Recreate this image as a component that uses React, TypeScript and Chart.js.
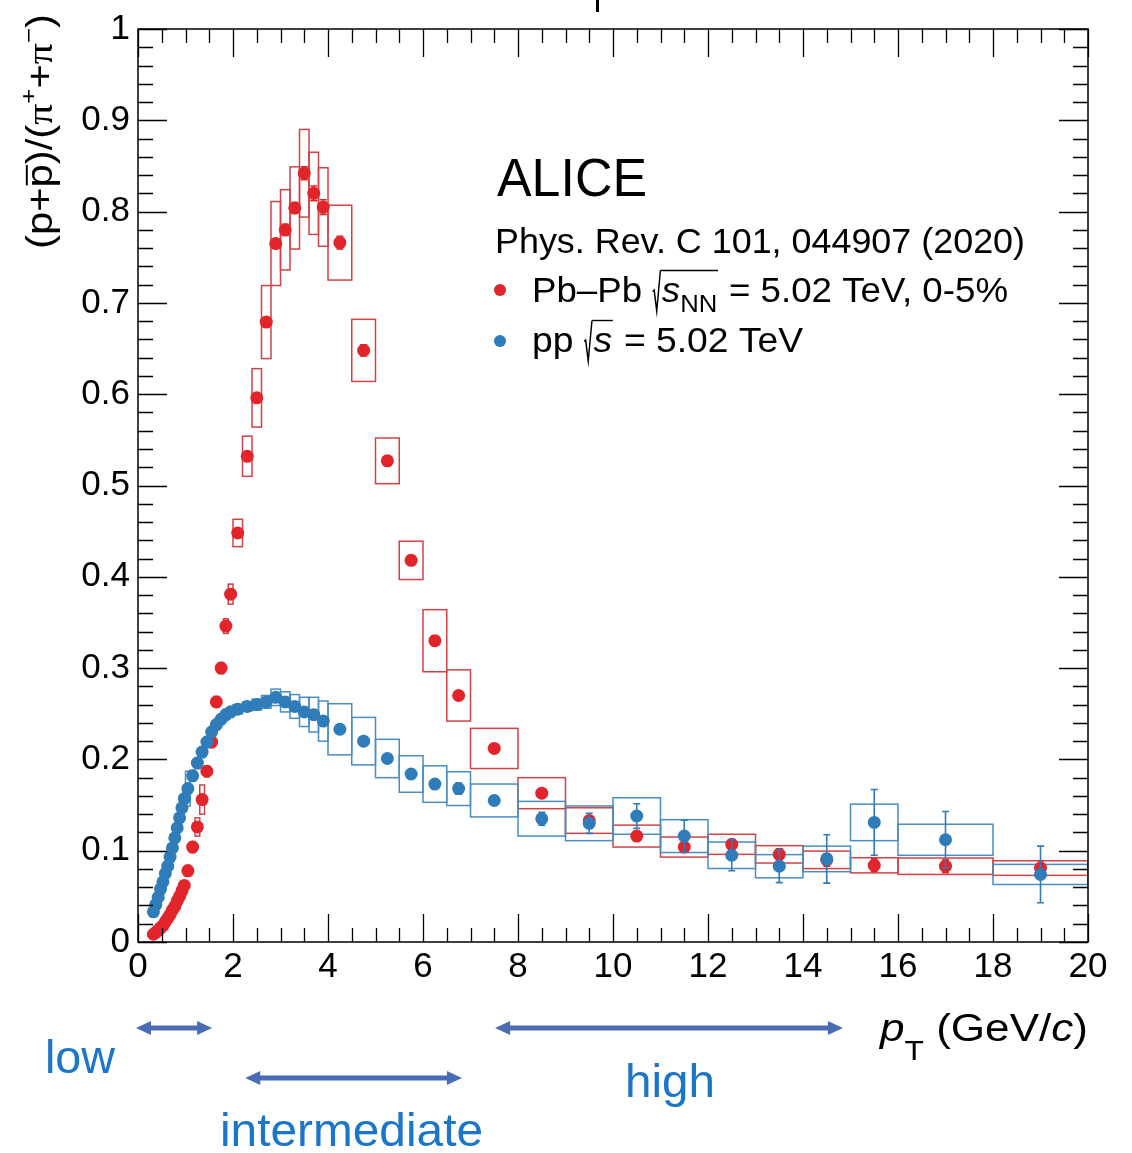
import React, { useEffect, useRef } from "react";
import { Chart, registerables } from "chart.js";

Chart.register(...registerables);

const FONT = '"Liberation Sans", Arial, Helvetica, sans-serif';
const SERIF = '"Liberation Serif", "DejaVu Serif", serif';

// ---------------- data ----------------
const ptCenters = [
  0.325, 0.375, 0.425, 0.475, 0.525, 0.575, 0.625, 0.675, 0.725, 0.775, 0.825, 0.875, 0.925, 0.975,
  1.05, 1.15, 1.25, 1.35, 1.45, 1.55, 1.65, 1.75, 1.85, 1.95,
  2.1, 2.3, 2.5, 2.7, 2.9, 3.1, 3.3, 3.5, 3.7, 3.9,
  4.25, 4.75, 5.25, 5.75, 6.25, 6.75,
  7.5, 8.5, 9.5, 10.5, 11.5, 12.5, 13.5, 14.5, 15.5,
  17, 19,
];
const binLow = [
  0.3, 0.35, 0.4, 0.45, 0.5, 0.55, 0.6, 0.65, 0.7, 0.75, 0.8, 0.85, 0.9, 0.95,
  1.0, 1.1, 1.2, 1.3, 1.4, 1.5, 1.6, 1.7, 1.8, 1.9,
  2.0, 2.2, 2.4, 2.6, 2.8, 3.0, 3.2, 3.4, 3.6, 3.8,
  4.0, 4.5, 5.0, 5.5, 6.0, 6.5,
  7, 8, 9, 10, 11, 12, 13, 14, 15,
  16, 18,
];
const binHigh = [
  0.35, 0.4, 0.45, 0.5, 0.55, 0.6, 0.65, 0.7, 0.75, 0.8, 0.85, 0.9, 0.95, 1.0,
  1.1, 1.2, 1.3, 1.4, 1.5, 1.6, 1.7, 1.8, 1.9, 2.0,
  2.2, 2.4, 2.6, 2.8, 3.0, 3.2, 3.4, 3.6, 3.8, 4.0,
  4.5, 5.0, 5.5, 6.0, 6.5, 7.0,
  8, 9, 10, 11, 12, 13, 14, 15, 16,
  18, 20,
];

// Pb-Pb 0-5%
const pbpbRatio = [
  0.0085, 0.0105, 0.013, 0.0155, 0.018, 0.022, 0.026, 0.030, 0.035, 0.039, 0.045, 0.050, 0.056, 0.062,
  0.078, 0.104, 0.126, 0.156, 0.187, 0.219, 0.263, 0.300, 0.346, 0.381,
  0.448, 0.532, 0.596, 0.679, 0.765, 0.780, 0.804, 0.842, 0.820, 0.805,
  0.766, 0.648, 0.527, 0.418, 0.330, 0.270,
  0.212, 0.163, 0.133, 0.116, 0.104, 0.107, 0.096, 0.090, 0.084,
  0.083, 0.081,
];
const pbpbStat = [
  0.0003, 0.0003, 0.0003, 0.0003, 0.0003, 0.0003, 0.0003, 0.0003, 0.0003, 0.0004, 0.0004, 0.0004, 0.0005, 0.0005,
  0.002, 0.002, 0.002, 0.002, 0.002, 0.002, 0.003, 0.003, 0.003, 0.004,
  0.003, 0.004, 0.004, 0.005, 0.005, 0.006, 0.006, 0.007, 0.008, 0.008,
  0.007, 0.006, 0.005, 0.005, 0.004, 0.004,
  0.004, 0.004, 0.004, 0.004, 0.005, 0.005, 0.006, 0.007, 0.007,
  0.007, 0.008,
];
const pbpbSys = [
  0.0008, 0.001, 0.0012, 0.0014, 0.0016, 0.002, 0.0023, 0.0026, 0.003, 0.0034, 0.0038, 0.0042, 0.0047, 0.0052,
  0.006, 0.006, 0.010, 0.016, 0.006, 0.006, 0.006, 0.006, 0.008, 0.011,
  0.015, 0.022, 0.032, 0.040, 0.046, 0.044, 0.045, 0.048, 0.045, 0.043,
  0.041, 0.034, 0.025, 0.021, 0.034, 0.028,
  0.022, 0.017, 0.014, 0.012, 0.011, 0.011, 0.0095, 0.0096, 0.0083,
  0.009, 0.008,
];

// pp
const ppRatio = [
  0.033, 0.041, 0.049, 0.058, 0.066, 0.075, 0.083, 0.093, 0.103, 0.114, 0.125, 0.136, 0.147, 0.157,
  0.168, 0.182, 0.196, 0.208, 0.219, 0.230, 0.238, 0.244, 0.249, 0.252,
  0.255, 0.258, 0.260, 0.263, 0.268, 0.263, 0.258, 0.252, 0.249, 0.242,
  0.233, 0.220, 0.201, 0.184, 0.173, 0.168,
  0.155, 0.135, 0.130, 0.138, 0.116, 0.095, 0.083, 0.091, 0.131,
  0.112, 0.074,
];
const ppStat = [
  0.0005, 0.0005, 0.0005, 0.0005, 0.0005, 0.0005, 0.0005, 0.0005, 0.0005, 0.0005, 0.0005, 0.0005, 0.0005, 0.0005,
  0.001, 0.001, 0.001, 0.001, 0.001, 0.001, 0.001, 0.001, 0.001, 0.001,
  0.001, 0.001, 0.001, 0.002, 0.002, 0.002, 0.002, 0.002, 0.003, 0.003,
  0.003, 0.003, 0.003, 0.003, 0.004, 0.006,
  0.005, 0.007, 0.011, 0.0135, 0.0175, 0.017, 0.018, 0.0265, 0.036,
  0.031, 0.031,
];
const ppSys = [
  0.0015, 0.002, 0.0025, 0.003, 0.003, 0.0035, 0.004, 0.0045, 0.005, 0.0055, 0.006, 0.0065, 0.007, 0.0075,
  0.019, 0.006, 0.006, 0.006, 0.006, 0.006, 0.006, 0.006, 0.006, 0.006,
  0.005, 0.005, 0.006, 0.007, 0.009, 0.011, 0.013, 0.016, 0.019, 0.022,
  0.028, 0.026, 0.021, 0.020, 0.020, 0.0185,
  0.018, 0.019, 0.019, 0.020, 0.018, 0.0145, 0.0127, 0.014, 0.020,
  0.017, 0.011,
];

// pT regions marked under the axis
const regionNames = ["low", "intermediate", "high"];
const regionRanges = [
  [0.0, 1.56],
  [2.3, 6.82],
  [7.56, 14.84],
];

// ---------------- styles ----------------
const RED = "#e2242b";
const BLUE = "#2f7cb9";
const RED_BOX = "#cf4347";
const BLUE_BOX = "#4a8dc0";
const ANNOT = "#1b76c9";
const ARROW = "#4a6cb5";

const series = [
  { vals: pbpbRatio, stat: pbpbStat, sys: pbpbSys, color: RED, box: RED_BOX },
  { vals: ppRatio, stat: ppStat, sys: ppSys, color: BLUE, box: BLUE_BOX },
];

type Seg = {
  t?: string;
  size: number;
  italic?: boolean;
  family?: string;
  dy?: number;
  bar?: boolean;
  rad?: "open" | "close";
};

function segFont(s: Seg) {
  return `${s.italic ? "italic " : ""}${s.size}px ${s.family || FONT}`;
}

function richWidth(ctx: CanvasRenderingContext2D, segs: Seg[]) {
  let w = 0;
  for (const s of segs) {
    if (s.rad === "open") w += s.size * 0.26;
    else if (s.rad === "close") w += s.size * 0.04;
    else {
      ctx.font = segFont(s);
      w += ctx.measureText(s.t || "").width;
    }
  }
  return w;
}

function drawRich(
  ctx: CanvasRenderingContext2D,
  segs: Seg[],
  x: number,
  y: number,
  target: number | null,
  color: string,
  angle = 0
) {
  ctx.save();
  ctx.translate(x, y);
  if (angle) ctx.rotate(angle);
  const natural = richWidth(ctx, segs);
  const sx = target ? target / natural : 1;
  ctx.scale(sx, 1);
  ctx.fillStyle = color;
  ctx.strokeStyle = color;
  ctx.textAlign = "left";
  ctx.textBaseline = "alphabetic";
  let cx = 0;
  let radStart = 0;
  let radTop = 0;
  for (const s of segs) {
    if (s.rad === "open") {
      const z = s.size;
      radTop = -0.9 * z;
      ctx.lineWidth = 1.4;
      ctx.beginPath();
      ctx.moveTo(cx + 0.01 * z, -0.3 * z);
      ctx.lineTo(cx + 0.05 * z, -0.34 * z);
      ctx.lineTo(cx + 0.12 * z, 0.26 * z);
      ctx.lineTo(cx + 0.22 * z, radTop);
      ctx.stroke();
      radStart = cx + 0.22 * z;
      cx += 0.26 * z;
      continue;
    }
    if (s.rad === "close") {
      ctx.lineWidth = 1.4;
      ctx.beginPath();
      ctx.moveTo(radStart, radTop);
      ctx.lineTo(cx + 0.02 * s.size, radTop);
      ctx.stroke();
      cx += 0.04 * s.size;
      continue;
    }
    ctx.font = segFont(s);
    const w = ctx.measureText(s.t || "").width;
    ctx.fillText(s.t || "", cx, s.dy || 0);
    if (s.bar) {
      ctx.lineWidth = 2;
      ctx.beginPath();
      ctx.moveTo(cx + 0.05 * s.size, (s.dy || 0) - 0.7 * s.size);
      ctx.lineTo(cx + w - 0.02 * s.size, (s.dy || 0) - 0.7 * s.size);
      ctx.stroke();
    }
    cx += w;
  }
  ctx.restore();
}

function drawArrow(ctx: CanvasRenderingContext2D, x0: number, x1: number, y: number) {
  const head = 15;
  const hw = 7;
  ctx.save();
  ctx.strokeStyle = ARROW;
  ctx.fillStyle = ARROW;
  ctx.lineWidth = 5;
  ctx.beginPath();
  ctx.moveTo(x0 + head - 2, y);
  ctx.lineTo(x1 - head + 2, y);
  ctx.stroke();
  ctx.beginPath();
  ctx.moveTo(x0, y);
  ctx.lineTo(x0 + head, y - hw);
  ctx.lineTo(x0 + head, y + hw);
  ctx.closePath();
  ctx.fill();
  ctx.beginPath();
  ctx.moveTo(x1, y);
  ctx.lineTo(x1 - head, y - hw);
  ctx.lineTo(x1 - head, y + hw);
  ctx.closePath();
  ctx.fill();
  ctx.restore();
}

const decorPlugin = {
  id: "rootDecor",
  beforeDatasetsDraw(chart: any) {
    const { ctx, chartArea: a, scales } = chart;
    const xs = scales.x;
    const ys = scales.y;
    ctx.save();
    ctx.beginPath();
    ctx.rect(a.left, a.top, a.right - a.left, a.bottom - a.top);
    ctx.clip();
    for (const s of series) {
      ctx.strokeStyle = s.box;
      ctx.lineWidth = 1.5;
      for (let i = 0; i < ptCenters.length; i++) {
        const x0 = xs.getPixelForValue(binLow[i]);
        const x1 = xs.getPixelForValue(binHigh[i]);
        const y0 = ys.getPixelForValue(s.vals[i] + s.sys[i]);
        const y1 = ys.getPixelForValue(s.vals[i] - s.sys[i]);
        ctx.strokeRect(x0, y0, x1 - x0, y1 - y0);
      }
    }
    ctx.restore();
  },
  afterDatasetDraw(chart: any, args: any) {
    const s = series[args.index];
    if (!s) return;
    const { ctx, scales } = chart;
    const xs = scales.x;
    const ys = scales.y;
    ctx.save();
    ctx.strokeStyle = s.color;
    ctx.lineWidth = 1.6;
    for (let i = 0; i < ptCenters.length; i++) {
      const px = xs.getPixelForValue(ptCenters[i]);
      const yt = ys.getPixelForValue(s.vals[i] + s.stat[i]);
      const yb = ys.getPixelForValue(s.vals[i] - s.stat[i]);
      ctx.beginPath();
      ctx.moveTo(px, yt);
      ctx.lineTo(px, yb);
      ctx.moveTo(px - 3.5, yt);
      ctx.lineTo(px + 3.5, yt);
      ctx.moveTo(px - 3.5, yb);
      ctx.lineTo(px + 3.5, yb);
      ctx.stroke();
    }
    ctx.restore();
  },
  afterDraw(chart: any) {
    const { ctx, chartArea: a, scales } = chart;
    const xs = scales.x;
    const ys = scales.y;
    ctx.save();
    // frame
    ctx.strokeStyle = "#000";
    ctx.lineWidth = 1.5;
    ctx.strokeRect(a.left, a.top, a.right - a.left, a.bottom - a.top);
    // x ticks (inside, bottom and top)
    ctx.lineWidth = 1.3;
    ctx.beginPath();
    for (let k = 0; k <= 40; k++) {
      const v = k * 0.5;
      const px = Math.round(xs.getPixelForValue(v)) + 0.5;
      const len = k % 4 === 0 ? 28 : 14;
      ctx.moveTo(px, a.bottom);
      ctx.lineTo(px, a.bottom - len);
      ctx.moveTo(px, a.top);
      ctx.lineTo(px, a.top + len);
    }
    // y ticks (inside, left and right)
    for (let k = 0; k <= 50; k++) {
      const v = k * 0.02;
      const py = Math.round(ys.getPixelForValue(v)) + 0.5;
      const len = k % 5 === 0 ? 29 : 15;
      ctx.moveTo(a.left, py);
      ctx.lineTo(a.left + len, py);
      ctx.moveTo(a.right, py);
      ctx.lineTo(a.right - len, py);
    }
    ctx.stroke();

    // small mark at the top edge
    ctx.fillStyle = "#000";
    ctx.fillRect(596, 0, 3, 12);

    // y-axis title
    const ts = 36;
    drawRich(
      ctx,
      [
        { t: "(p+", size: ts },
        { t: "p", size: ts, bar: true },
        { t: ")/(", size: ts },
        { t: "\u03c0", size: ts, family: SERIF },
        { t: "+", size: ts * 0.62, dy: -0.45 * ts },
        { t: "+", size: ts },
        { t: "\u03c0", size: ts, family: SERIF },
        { t: "\u2212", size: ts * 0.62, dy: -0.45 * ts },
        { t: ")", size: ts },
      ],
      52,
      249,
      235,
      "#000",
      -Math.PI / 2
    );

    // x-axis title
    const xt = 38;
    drawRich(
      ctx,
      [
        { t: "p", size: xt, italic: true },
        { t: "T", size: xt * 0.72, dy: 0.5 * xt },
        { t: " (GeV/", size: xt },
        { t: "c", size: xt, italic: true },
        { t: ")", size: xt },
      ],
      880,
      1041,
      208,
      "#000"
    );

    // legend block
    drawRich(ctx, [{ t: "ALICE", size: 54 }], 497, 196, 150, "#000");
    drawRich(ctx, [{ t: "Phys. Rev. C 101, 044907 (2020)", size: 35 }], 495, 253, 530, "#000");

    ctx.fillStyle = RED;
    ctx.beginPath();
    ctx.arc(500, 290, 6, 0, Math.PI * 2);
    ctx.fill();
    const ls = 35;
    drawRich(
      ctx,
      [
        { t: "Pb\u2013Pb ", size: ls },
        { rad: "open", size: ls },
        { t: "s", size: ls, italic: true },
        { t: "NN", size: ls * 0.7, dy: 0.28 * ls },
        { rad: "close", size: ls },
        { t: " = 5.02 TeV, 0-5%", size: ls },
      ],
      532,
      302,
      476,
      "#000"
    );

    ctx.fillStyle = BLUE;
    ctx.beginPath();
    ctx.arc(500, 341, 6, 0, Math.PI * 2);
    ctx.fill();
    drawRich(
      ctx,
      [
        { t: "pp ", size: ls },
        { rad: "open", size: ls },
        { t: "s", size: ls, italic: true },
        { rad: "close", size: ls },
        { t: " = 5.02 TeV", size: ls },
      ],
      532,
      352,
      271,
      "#000"
    );

    // pT region arrows and labels
    const arrowY = [1028, 1078, 1028];
    const labelPos = [
      { x: 45, y: 1073, w: 70 },
      { x: 220, y: 1146, w: 263 },
      { x: 625, y: 1097, w: 90 },
    ];
    for (let r = 0; r < regionRanges.length; r++) {
      const x0 = xs.getPixelForValue(regionRanges[r][0]) - 2;
      const x1 = xs.getPixelForValue(regionRanges[r][1]);
      drawArrow(ctx, x0, x1, arrowY[r]);
      const lp = labelPos[r];
      drawRich(ctx, [{ t: regionNames[r], size: 47 }], lp.x, lp.y, lp.w, ANNOT);
    }
    ctx.restore();
  },
};

export default function App() {
  const ref = useRef<HTMLCanvasElement | null>(null);
  useEffect(() => {
    if (!ref.current) return;
    const tickFont = { family: FONT, size: 35 };
    const chart = new Chart(ref.current, {
      type: "scatter",
      data: {
        datasets: [
          {
            label: "Pb\u2013Pb 0-5%",
            data: ptCenters.map((x, i) => ({ x, y: pbpbRatio[i] })),
            pointRadius: 6.5,
            pointBackgroundColor: RED,
            pointBorderWidth: 0,
            pointBorderColor: RED,
            showLine: false,
            order: 1,
          },
          {
            label: "pp",
            data: ptCenters.map((x, i) => ({ x, y: ppRatio[i] })),
            pointRadius: 6.5,
            pointBackgroundColor: BLUE,
            pointBorderWidth: 0,
            pointBorderColor: BLUE,
            showLine: false,
            order: 0,
          },
        ],
      },
      options: {
        responsive: false,
        maintainAspectRatio: false,
        animation: false,
        events: [],
        layout: { padding: { left: 0, right: 44, top: 22, bottom: 0 } },
        plugins: { legend: { display: false }, tooltip: { enabled: false } },
        scales: {
          x: {
            type: "linear",
            position: "bottom",
            min: 0,
            max: 20,
            grid: { display: false, drawTicks: false },
            border: { display: false },
            ticks: {
              stepSize: 2,
              autoSkip: false,
              maxRotation: 0,
              minRotation: 0,
              padding: 4,
              color: "#000",
              font: tickFont,
              callback: (v: any) => String(Math.round(Number(v))),
            },
            afterFit: (s: any) => {
              s.height = 211;
            },
          },
          y: {
            type: "linear",
            position: "left",
            min: 0,
            max: 1,
            grid: { display: false, drawTicks: false },
            border: { display: false },
            ticks: {
              stepSize: 0.1,
              autoSkip: false,
              padding: 8,
              color: "#000",
              font: tickFont,
              callback: (v: any) => String(Math.round(Number(v) * 10) / 10),
            },
            afterFit: (s: any) => {
              s.width = 138;
            },
          },
        },
      } as any,
      plugins: [decorPlugin as any],
    });
    return () => chart.destroy();
  }, []);
  return (
    <div
      style={{
        position: "absolute",
        left: 0,
        top: 0,
        width: 1132,
        height: 1153,
        background: "#fff",
        overflow: "hidden",
      }}
    >
      <canvas ref={ref} width={1132} height={1153} style={{ display: "block", width: 1132, height: 1153 }} />
    </div>
  );
}
